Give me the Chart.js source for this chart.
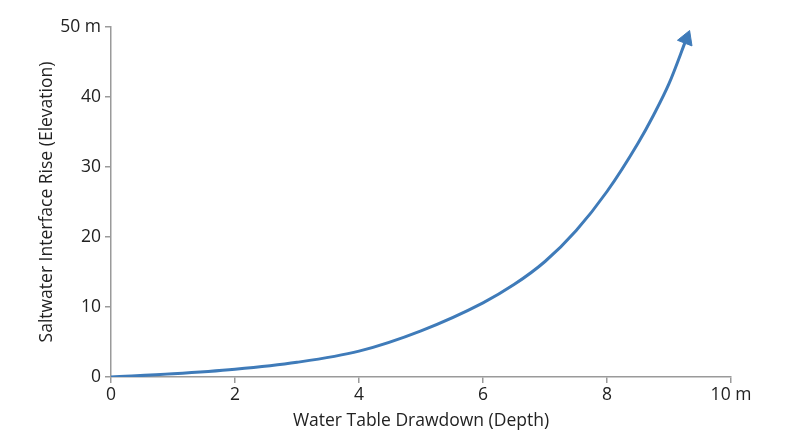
<!DOCTYPE html>
<html>
<head>
<meta charset="utf-8">
<script src="https://cdn.jsdelivr.net/npm/chart.js@4"></script>
<style>
  html, body { margin: 0; padding: 0; background: #fff; }
  #wrap { width: 800px; height: 447px; }
</style>
</head>
<body>
<div id="wrap"><canvas id="grafica"></canvas></div>
<script>
// datos
const drawdown = [0, 1, 2, 3, 4, 5, 6, 6.5, 7, 7.5, 8, 8.5, 8.75, 9, 9.28];
const rise = [0, 0.45, 1.1, 2.1, 3.7, 6.6, 10.6, 13.2, 16.5, 20.9, 26.5, 33.4, 37.4, 41.9, 48.3];
const xTicks = [0, 2, 4, 6, 8, 10];
const yTicks = [0, 10, 20, 30, 40, 50];

const colorLinea = '#3f7bb9';
const colorEje = '#9a9a9a';
const fuente = { family: 'Open Sans', size: 17.5 };

const puntos = drawdown.map((x, i) => ({ x: x, y: rise[i] }));
const ultimo = puntos.length - 1;

// rotación de la flecha según el último tramo
function rotacionFlecha(ctx) {
  const c = ctx.chart;
  if (!c.scales || !c.scales.x) return 0;
  const a = puntos[ultimo - 1], b = puntos[ultimo];
  const dx = c.scales.x.getPixelForValue(b.x) - c.scales.x.getPixelForValue(a.x);
  const dy = c.scales.y.getPixelForValue(b.y) - c.scales.y.getPixelForValue(a.y);
  return Math.atan2(dx, -dy) * 180 / Math.PI;
}

new Chart(document.getElementById('grafica'), {
  type: 'scatter',
  data: {
    datasets: [{
      data: puntos,
      showLine: true,
      borderColor: colorLinea,
      borderWidth: 3,
      cubicInterpolationMode: 'monotone',
      pointStyle: 'triangle',
      pointRadius: puntos.map((p, i) => i === ultimo ? 9 : 0),
      pointHoverRadius: 0,
      pointBackgroundColor: colorLinea,
      pointBorderColor: colorLinea,
      pointBorderWidth: 1,
      pointRotation: rotacionFlecha,
    }],
  },
  options: {
    responsive: true,
    maintainAspectRatio: false,
    animation: false,
    layout: { padding: { top: 27, right: 69, left: 37, bottom: 11 } },
    plugins: { legend: { display: false }, tooltip: { enabled: false } },
    scales: {
      x: {
        type: 'linear',
        min: 0,
        max: 10,
        afterBuildTicks: s => { s.ticks = xTicks.map(v => ({ value: v })); },
        afterFit: s => { s.height = 59; },
        grid: { drawOnChartArea: false, drawTicks: true, tickLength: 6, color: colorEje, lineWidth: 1.5 },
        border: { display: true, color: colorEje, width: 1.5 },
        ticks: {
          color: '#222',
          font: fuente,
          padding: 2,
          maxRotation: 0,
          callback: v => v === 10 ? '10 m' : v,
        },
        title: {
          display: true,
          text: 'Water Table Drawdown (Depth)',
          color: '#222',
          font: fuente,
          padding: { top: 4, bottom: 4 },
        },
      },
      y: {
        type: 'linear',
        min: 0,
        max: 50,
        afterBuildTicks: s => { s.ticks = yTicks.map(v => ({ value: v })); },
        afterFit: s => { s.width = 74; },
        grid: { drawOnChartArea: false, drawTicks: true, tickLength: 6, color: colorEje, lineWidth: 1.5 },
        border: { display: true, color: colorEje, width: 1.5 },
        ticks: {
          color: '#222',
          font: fuente,
          padding: 4,
          callback: v => v === 50 ? '50 m' : v,
        },
        title: {
          display: true,
          text: 'Saltwater Interface Rise (Elevation)',
          color: '#222',
          font: fuente,
          padding: { top: 0, bottom: 0 },
        },
      },
    },
  },
});
</script>
</body>
</html>
